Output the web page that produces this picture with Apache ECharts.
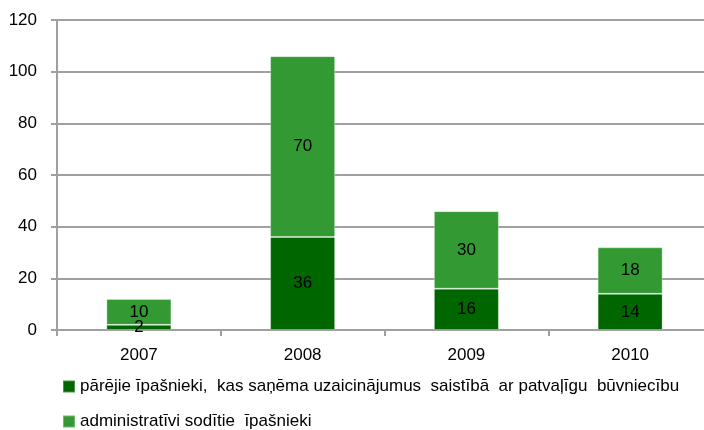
<!DOCTYPE html>
<html>
<head>
<meta charset="utf-8">
<script src="https://cdn.jsdelivr.net/npm/echarts@6/dist/echarts.min.js"></script>
<style>
  html, body { margin: 0; padding: 0; background: #fff; }
  #chart { width: 704px; height: 430px; }
</style>
</head>
<body>
<div id="chart"></div>
<script>
var years = ['2007', '2008', '2009', '2010'];
var otherOwners = [2, 36, 16, 14];
var finedOwners = [10, 70, 30, 18];
var yTicks = [0, 20, 40, 60, 80, 100, 120];

var nameOther = 'pārējie īpašnieki,  kas saņēma uzaicinājumus  saistībā  ar patvaļīgu  būvniecību';
var nameFined = 'administratīvi sodītie  īpašnieki';

var font = "'Liberation Sans', Arial, sans-serif";
var gridColor = '#a0a0a0';

var chart = echarts.init(document.getElementById('chart'));
chart.setOption({
  animation: false,
  textStyle: { fontFamily: font },
  grid: { left: 57, width: 655, top: 20, bottom: 100, containLabel: false, outerBoundsMode: 'none' },
  legend: [
    {
      data: [nameOther],
      left: 57, top: 373,
      itemWidth: 12, itemHeight: 12, itemGap: 4,
      icon: 'rect',
      textStyle: { fontSize: 17, color: '#000', fontFamily: font }
    },
    {
      data: [nameFined],
      left: 57, top: 408,
      itemWidth: 12, itemHeight: 12, itemGap: 4,
      icon: 'rect',
      textStyle: { fontSize: 17, color: '#000', fontFamily: font }
    }
  ],
  xAxis: {
    type: 'category',
    data: years,
    axisLine: { lineStyle: { color: gridColor, width: 2 } },
    axisTick: { show: true, length: 6, alignWithLabel: false, lineStyle: { color: gridColor, width: 2 } },
    axisLabel: { color: '#000', fontSize: 17, margin: 17, fontFamily: font }
  },
  yAxis: {
    type: 'value',
    min: yTicks[0],
    max: yTicks[yTicks.length - 1],
    interval: 20,
    axisLine: { show: true, lineStyle: { color: gridColor, width: 2 } },
    axisTick: { show: true, length: 6, lineStyle: { color: gridColor, width: 2 } },
    axisLabel: { color: '#000', fontSize: 17, margin: 20, fontFamily: font },
    splitLine: { show: true, lineStyle: { color: gridColor, width: 2 } }
  },
  series: [
    {
      name: nameOther,
      type: 'bar',
      stack: 'total',
      barWidth: 65,
      itemStyle: { color: '#006600', borderColor: 'rgba(255,255,255,0.3)', borderWidth: 1 },
      label: { show: true, position: 'inside', color: '#000', fontSize: 17, fontFamily: font },
      data: otherOwners
    },
    {
      name: nameFined,
      type: 'bar',
      stack: 'total',
      barWidth: 65,
      itemStyle: { color: '#339933', borderColor: 'rgba(255,255,255,0.3)', borderWidth: 1 },
      label: { show: true, position: 'inside', color: '#000', fontSize: 17, fontFamily: font },
      data: finedOwners
    }
  ]
});
</script>
</body>
</html>
